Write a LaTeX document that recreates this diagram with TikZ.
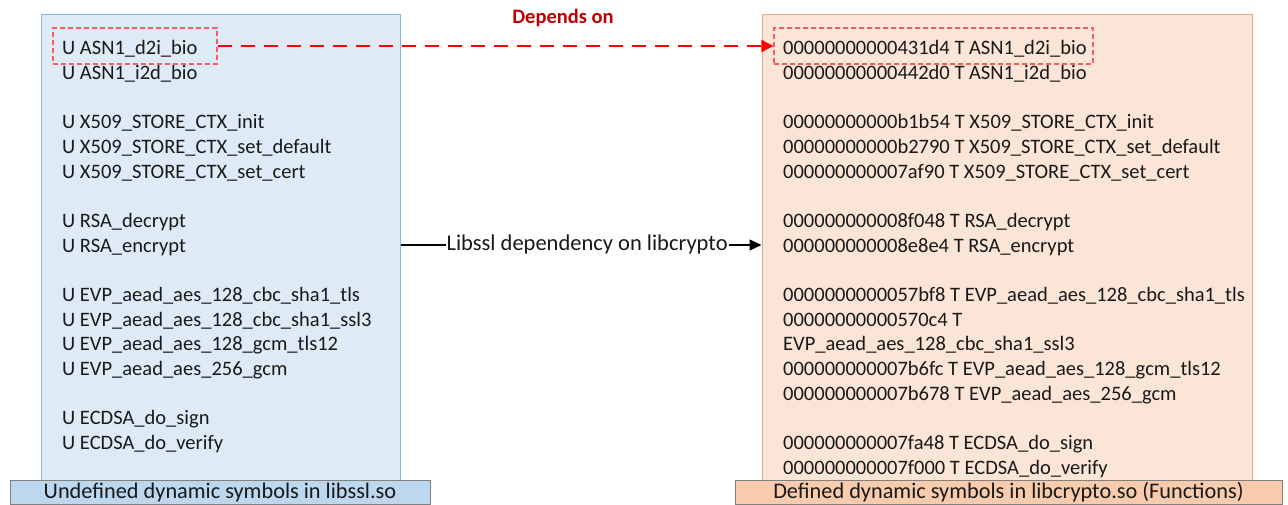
\documentclass[tikz,border=0pt]{standalone}
\usepackage{fontspec}
\setmainfont{Carlito}
\usetikzlibrary{arrows.meta}
\definecolor{sslfill}{RGB}{222,235,247}
\definecolor{ssldraw}{RGB}{140,180,222}
\definecolor{sslbar}{RGB}{189,215,238}
\definecolor{cryfill}{RGB}{251,229,214}
\definecolor{crydraw}{RGB}{232,170,128}
\definecolor{crybar}{RGB}{248,203,173}
\definecolor{bargray}{RGB}{128,128,128}
\definecolor{depred}{RGB}{192,0,0}
\definecolor{hlred}{RGB}{255,90,95}
\definecolor{txt}{RGB}{25,25,25}
\begin{document}
\begin{tikzpicture}[x=1pt,y=-1pt,
  every node/.style={font=\fontsize{20.5}{24}\selectfont, text=txt},
  sym/.style={anchor=base west, inner sep=0pt},
  libbox/.style={draw, line width=1pt, inner sep=0pt},
  libbar/.style={draw=bargray, line width=1pt, inner sep=0pt, minimum height=24pt, font=\fontsize{22.3}{26}\selectfont},
  hlbox/.style={draw=hlred, dash pattern=on 5pt off 3pt, line width=1.3pt, inner sep=0pt, minimum height=36pt},
  deparrow/.style={draw=red, line width=2pt, dash pattern=on 14pt off 9pt, -{Triangle[length=12pt,width=12pt]}},
  linkarrow/.style={draw=black, line width=1.2pt, -{Triangle[length=12pt,width=11pt]}}]
\useasboundingbox (0,0) rectangle (1288,505);

% library panels
\node[libbox, draw=ssldraw, fill=sslfill, minimum width=359pt, minimum height=472pt] (lb) at (220.5,251) {};
\node[libbox, draw=crydraw, fill=cryfill, minimum width=490pt, minimum height=472pt] (rb) at (1007,251) {};

% undefined symbols in libssl
\foreach \k/\t in {0/U ASN1\_d2i\_bio, 1/U ASN1\_i2d\_bio,
  3/U X509\_STORE\_CTX\_init, 4/U X509\_STORE\_CTX\_set\_default, 5/U X509\_STORE\_CTX\_set\_cert,
  7/U RSA\_decrypt, 8/U RSA\_encrypt,
  10/U EVP\_aead\_aes\_128\_cbc\_sha1\_tls, 11/U EVP\_aead\_aes\_128\_cbc\_sha1\_ssl3,
  12/U EVP\_aead\_aes\_128\_gcm\_tls12, 13/U EVP\_aead\_aes\_256\_gcm,
  15/U ECDSA\_do\_sign, 16/U ECDSA\_do\_verify}
  \node[sym] (l\k) at (62,{55+24.65*\k}) {\t};

% defined symbols in libcrypto
\foreach \k/\t in {0/00000000000431d4 T ASN1\_d2i\_bio, 1/00000000000442d0 T ASN1\_i2d\_bio,
  3/00000000000b1b54 T X509\_STORE\_CTX\_init, 4/00000000000b2790 T X509\_STORE\_CTX\_set\_default,
  5/000000000007af90 T X509\_STORE\_CTX\_set\_cert,
  7/000000000008f048 T RSA\_decrypt, 8/000000000008e8e4 T RSA\_encrypt,
  10/0000000000057bf8 T EVP\_aead\_aes\_128\_cbc\_sha1\_tls, 11/00000000000570c4 T,
  12/EVP\_aead\_aes\_128\_cbc\_sha1\_ssl3,
  13/000000000007b6fc T EVP\_aead\_aes\_128\_gcm\_tls12, 14/000000000007b678 T EVP\_aead\_aes\_256\_gcm,
  16/000000000007fa48 T ECDSA\_do\_sign, 17/000000000007f000 T ECDSA\_do\_verify}
  \node[sym] (r\k) at (783,{55+24.65*\k}) {\t};

% caption bars
\node[libbar, fill=sslbar, minimum width=420pt] (lcap) at (220,492.5) {Undefined dynamic symbols in libssl.so};
\node[libbar, fill=crybar, minimum width=547pt] (rcap) at (1008.5,492.5) {Defined dynamic symbols in libcrypto.so (Functions)};

% highlighted symbol pair
\node[hlbox, minimum width=164pt] (hl) at (135,46) {};
\node[hlbox, minimum width=319pt] (hr) at (933.5,46) {};
\draw[deparrow] (hl.east) -- (hr.west);
\node[font=\fontsize{20.5}{24}\selectfont\bfseries, text=depred] (dep) at (563,18) {Depends on};

% library-level dependency
\coordinate (mid) at (0,245);
\draw[linkarrow] (lb.east |- mid) -- node[pos=0.517, fill=white, inner sep=1pt, font=\fontsize{22.5}{26}\selectfont] (lk) {Libssl dependency on libcrypto} (rb.west |- mid);
\end{tikzpicture}
\end{document}
